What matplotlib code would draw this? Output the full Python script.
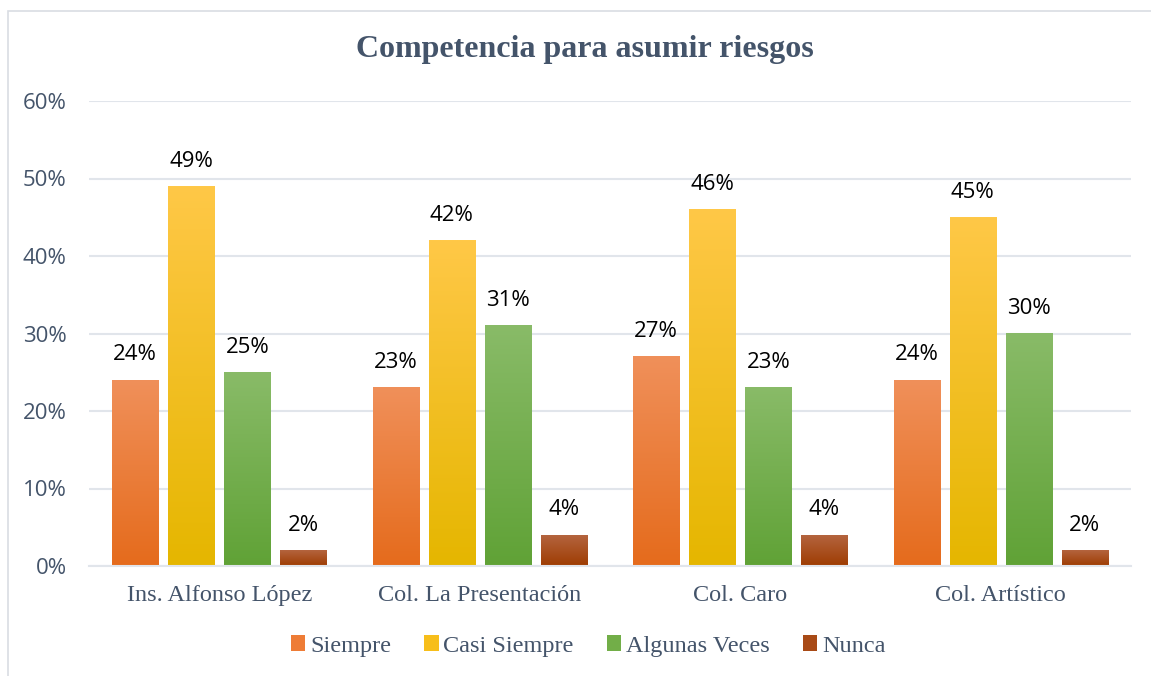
import numpy as np
import matplotlib.pyplot as plt
from matplotlib.colors import LinearSegmentedColormap
from matplotlib.patches import Patch, Rectangle

# ── Data ──────────────────────────────────────────────────────────────────
categories = ["Ins. Alfonso López", "Col. La Presentación", "Col. Caro", "Col. Artístico"]
series_names = ["Siempre", "Casi Siempre", "Algunas Veces", "Nunca"]
siempre = [24, 23, 27, 24]
casi_siempre = [49, 42, 46, 45]
algunas_veces = [25, 31, 23, 30]
nunca = [2, 4, 4, 2]
yticks = [0, 10, 20, 30, 40, 50, 60]

# (top colour, bottom colour) for the gradient fills
grad_colors = [
    ("#F0905A", "#E56B1C"),
    ("#FFC847", "#E5B600"),
    ("#89BB68", "#60A236"),
    ("#B4643E", "#9E3C02"),
]
legend_colors = ["#EE7C36", "#F7BE1A", "#72AE48", "#A84A16"]

TEXT_GREY = "#44546A"

fig = plt.figure(figsize=(11.51, 6.76), dpi=100)
# outer chart frame
fig.patches.append(Rectangle((8 / 1151, -0.05), 1.1, 1 - 11 / 676 + 0.05,
                             transform=fig.transFigure, fill=False,
                             edgecolor="#D9DDE3", linewidth=1.2))

ax = fig.add_axes([89 / 1151, 1 - 566 / 676, (1131 - 89) / 1151, (566 - 101) / 676])

x = np.arange(len(categories))
width = 0.177
step = 0.215
offsets = (np.arange(4) - 1.5) * step

grad = np.linspace(0, 1, 256).reshape(-1, 1)
for i, vals in enumerate([siempre, casi_siempre, algunas_veces, nunca]):
    top, bottom = grad_colors[i]
    cmap = LinearSegmentedColormap.from_list(f"g{i}", [bottom, top])
    bars = ax.bar(x + offsets[i], vals, width, color="none", zorder=2)
    for b, v in zip(bars, vals):
        x0, w = b.get_x(), b.get_width()
        ax.imshow(grad, extent=(x0, x0 + w, 0, v), origin="lower",
                  cmap=cmap, aspect="auto", zorder=2)
        ax.text(x0 + w / 2, v + 1.9, f"{v}%", ha="center", va="bottom",
                fontsize=16, family="Open Sans", color="black")

ax.set_xlim(-0.5, len(categories) - 0.5)
ax.set_ylim(0, 60)
ax.set_yticks(yticks)
ax.set_yticklabels([f"{t}%" for t in yticks], family="Open Sans",
                   fontsize=16, color=TEXT_GREY)
ax.set_xticks(x)
ax.set_xticklabels(categories, family="Liberation Serif", fontsize=17.5, color=TEXT_GREY)
ax.tick_params(axis="both", length=0)
ax.tick_params(axis="y", pad=16)
ax.tick_params(axis="x", pad=14)
ax.yaxis.grid(True, color="#E1E5EB", linewidth=1.5, zorder=0)
ax.set_axisbelow(True)
for side in ["top", "right", "left"]:
    ax.spines[side].set_visible(False)
ax.spines["bottom"].set_color("#E1E5EB")
ax.spines["bottom"].set_linewidth(1.5)

fig.text(0.508, 1 - 50 / 676, "Competencia para asumir riesgos", ha="center",
         va="center", family="Liberation Serif", fontweight="bold",
         fontsize=23, color=TEXT_GREY)

handles = [Patch(facecolor=c, edgecolor="none") for c in legend_colors]
fig.legend(handles, series_names, loc="center", bbox_to_anchor=(0.511, 1 - 646 / 676),
           ncol=4, frameon=False, handlelength=0.6, handleheight=0.6,
           handletextpad=0.2, columnspacing=1.35,
           prop={"family": "Liberation Serif", "size": 17.5}, labelcolor=TEXT_GREY)

fig.savefig("out.png", dpi=100)
